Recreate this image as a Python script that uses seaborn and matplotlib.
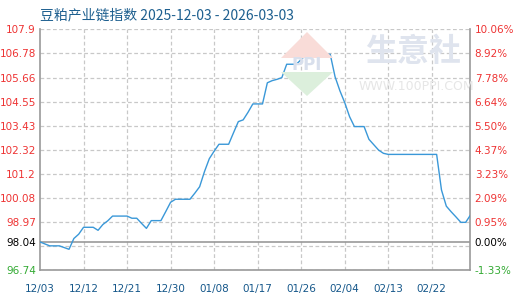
import matplotlib
matplotlib.use("Agg")
import matplotlib.pyplot as plt
import seaborn as sns
import pandas as pd
from matplotlib.patches import Polygon

# ---- data ----
day_offsets = [0, 1, 2, 4, 5, 6, 7, 8, 9, 11, 12, 13, 14, 15, 18, 19, 20, 21, 22, 23, 25, 26, 27, 28,
               31, 32, 33, 34, 35, 36, 37, 39, 40, 41, 42, 43, 44, 46, 47, 48, 49, 50, 51, 53, 54,
               55, 56, 57, 58, 60, 61, 62, 63, 64, 65, 67, 68, 69, 70, 71, 72, 82, 83, 84, 85, 86,
               87, 88, 89]
index_values = [98.04, 97.95, 97.86, 97.86, 97.78, 97.70, 98.20, 98.40, 98.72, 98.72, 98.58, 98.85,
                99.02, 99.24, 99.24, 99.14, 99.14, 98.90, 98.67, 99.03, 99.03, 99.45, 99.88, 100.02,
                100.02, 100.30, 100.60, 101.30, 101.90, 102.25, 102.57, 102.57, 103.10, 103.62,
                103.70, 104.05, 104.44, 104.44, 105.42, 105.52, 105.58, 105.66, 106.28, 106.28,
                106.50, 106.72, 106.91, 106.91, 106.74, 106.74, 105.70, 105.05, 104.50, 103.85,
                103.39, 103.39, 102.80, 102.55, 102.30, 102.15, 102.10, 102.10, 100.45, 99.70,
                99.44, 99.20, 98.95, 98.95, 99.29]

x_tick_days = [0, 9, 18, 27, 36, 45, 54, 63, 72, 81]
x_tick_labels = ["12/03", "12/12", "12/21", "12/30", "01/08", "01/17", "01/26", "02/04", "02/13", "02/22"]

base_value = 98.04
y_ticks = [96.74, 97.86, 98.04, 98.97, 100.08, 101.2, 102.32, 103.43, 104.55, 105.66, 106.78, 107.9]
y_left_labels = ["96.74", "", "98.04", "98.97", "100.08", "101.2", "102.32", "103.43", "104.55",
                 "105.66", "106.78", "107.9"]
y_right_labels = ["-1.33%", "", "0.00%", "0.95%", "2.09%", "3.23%", "4.37%", "5.50%", "6.64%",
                  "7.78%", "8.92%", "10.06%"]

title_text = "豆粕产业链指数 2025-12-03 - 2026-03-03"

# ---- style ----
sns.set_style("white")
plt.rcParams["font.family"] = ["DejaVu Sans"]

fig = plt.figure(figsize=(5.2, 3.0), dpi=100)
ax = fig.add_axes([40 / 520, 1 - 270 / 300, 430.5 / 520, 240.7 / 300])

df = pd.DataFrame({"day": day_offsets, "value": index_values})
sns.lineplot(data=df, x="day", y="value", ax=ax, color="#3a98d8", linewidth=1.0, zorder=5)

ax.set_xlim(0, 89)
ax.set_ylim(96.74, 107.9)
ax.set_xlabel("")
ax.set_ylabel("")

grid_kw = dict(color="#c8c8c8", linestyle=(0, (3, 2)), linewidth=0.9)
ax.set_xticks(x_tick_days)
ax.set_xticklabels(x_tick_labels)
ax.set_yticks(y_ticks)
ax.set_yticklabels(y_left_labels)
ax.grid(True, **grid_kw)
ax.yaxis.get_gridlines()[2].set_visible(False)
ax.xaxis.get_gridlines()[0].set_visible(False)
ax.axhline(base_value, color="#999999", linewidth=1.2, zorder=3)

ax.tick_params(axis="both", length=0, labelsize=7.5)
ax.tick_params(axis="x", pad=10, colors="#15578a")
ax.tick_params(axis="y", pad=3)
for lab, txt in zip(ax.get_yticklabels(), y_left_labels):
    if txt == "96.74":
        lab.set_color("#33aa33")
    elif txt == "98.04":
        lab.set_color("black")
    else:
        lab.set_color("#ee3333")
for lab in ax.get_xticklabels():
    lab.set_color("#15578a")

for s in ["left", "right", "bottom"]:
    ax.spines[s].set_color("#999999")
    ax.spines[s].set_linewidth(1.2)
ax.spines["top"].set_visible(False)

ax2 = ax.twinx()
ax2.set_ylim(96.74, 107.9)
ax2.set_yticks(y_ticks)
ax2.set_yticklabels(y_right_labels)
ax2.tick_params(axis="y", length=0, labelsize=7.5, pad=3)
for lab, txt in zip(ax2.get_yticklabels(), y_right_labels):
    if txt.startswith("-"):
        lab.set_color("#33aa33")
    elif txt == "0.00%":
        lab.set_color("black")
    else:
        lab.set_color("#ee3333")
for s in ax2.spines.values():
    s.set_visible(False)

# watermark
fig.text(413 / 520, 1 - 52 / 300, "生意社", family=["Noto Sans CJK SC", "DejaVu Sans"],
         fontsize=23, color="#dfe4ee", ha="center", va="center", zorder=0, fontweight="bold")
fig.text(416 / 520, 1 - 86 / 300, "WWW.100PPI.COM", fontsize=9, color="#e6e6e6",
         ha="center", va="center", zorder=0)
tr = fig.transFigure
top_tri = Polygon([(281 / 520, 1 - 58 / 300), (307 / 520, 1 - 32 / 300), (333 / 520, 1 - 58 / 300)],
                  closed=True, transform=tr, facecolor="#f9dcd8", edgecolor="none", zorder=0)
bot_tri = Polygon([(281 / 520, 1 - 72 / 300), (307 / 520, 1 - 96 / 300), (333 / 520, 1 - 72 / 300)],
                  closed=True, transform=tr, facecolor="#dcefdc", edgecolor="none", zorder=0)
fig.patches.extend([top_tri, bot_tri])
fig.text(307 / 520, 1 - 65 / 300, "PPI", fontsize=12, color="#d8dfec", ha="center", va="center",
         fontweight="bold", zorder=0)
ax.set_facecolor("none")
ax2.set_facecolor("none")

fig.text(40 / 520, 1 - 15 / 300, title_text, family=["Noto Sans CJK SC", "DejaVu Sans"],
         fontsize=10, color="#1d5f8f", ha="left", va="center")

fig.savefig("out.png", dpi=100)
